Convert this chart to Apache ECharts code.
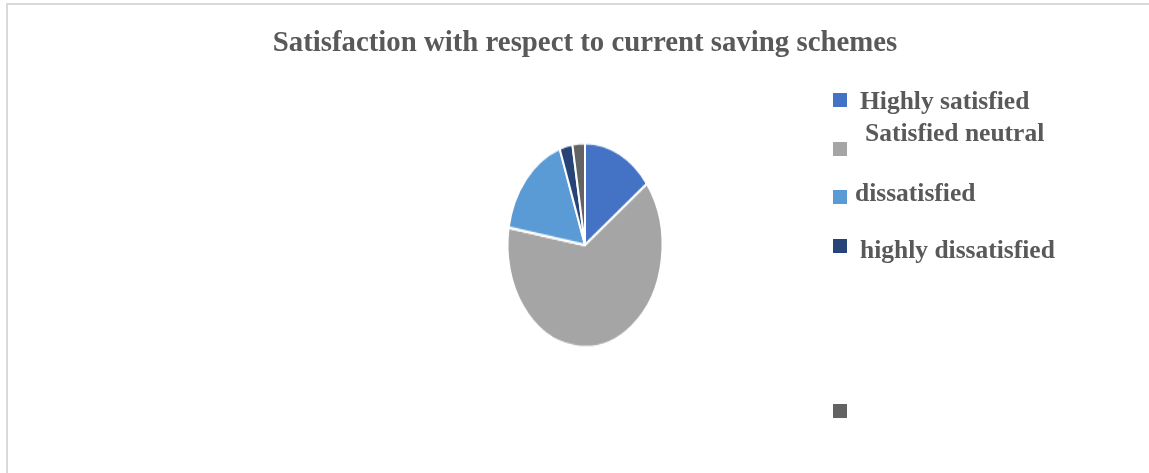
<!DOCTYPE html>
<html>
<head>
<meta charset="utf-8">
<script src="https://cdn.jsdelivr.net/npm/echarts@6/dist/echarts.min.js"></script>
<style>
html,body{margin:0;padding:0;background:#fff;}
#main{position:absolute;left:0;top:0;width:1149px;height:473px;}
#pie{position:absolute;left:485px;top:145px;width:200px;height:200px;transform:scaleY(1.316);transform-origin:50% 50%;}
</style>
</head>
<body>
<div id="main"></div>
<div id="pie"></div>
<script>
const titleText = 'Satisfaction with respect to current saving schemes';
const categories = ['Highly satisfied', 'Satisfied neutral', 'dissatisfied', 'highly dissatisfied', ' '];
const values = [14.7, 62.8, 16.9, 2.7, 2.6];
const colors = ['#4472C4', '#A5A5A5', '#5B9BD5', '#264478', '#636363'];

const pieData = categories.map((c, i) => ({ name: c, value: values[i], itemStyle: { color: colors[i] } }));

const fontFamily = '"Liberation Serif", serif';
const textBase = { color: '#595959', fontFamily: fontFamily, fontWeight: 'bold' };

// icon tops and label boxes [left, top]
const iconTops = [93, 142, 190, 239, 404];
const labelPos = [[855, 89], [860, 121], [850, 181], [855, 238], null];

const legends = [];
categories.forEach((c, i) => {
  legends.push({
    data: [c], left: 833, top: iconTops[i], orient: 'vertical', icon: 'rect',
    itemWidth: 14, itemHeight: 14, padding: 0, selectedMode: false,
    formatter: () => '',
    textStyle: { fontSize: 8, lineHeight: 8 }
  });
  if (labelPos[i]) {
    legends.push({
      data: [c], left: labelPos[i][0], top: labelPos[i][1], orient: 'vertical', icon: 'rect',
      itemWidth: 0, itemHeight: 0, padding: 0, selectedMode: false,
      textStyle: Object.assign({}, textBase, { fontSize: 25.5, lineHeight: 26 })
    });
  }
});

const main = echarts.init(document.getElementById('main'), null, { renderer: 'canvas' });
main.setOption({
  backgroundColor: '#ffffff',
  animation: false,
  title: {
    text: titleText,
    left: 580, top: 24, textAlign: 'center',
    textStyle: Object.assign({}, textBase, { fontSize: 28.8 })
  },
  graphic: [{
    type: 'rect', shape: { x: 7, y: 4, width: 1160, height: 500 },
    style: { fill: 'none', stroke: '#D9D9D9', lineWidth: 2 }, silent: true
  }],
  legend: legends,
  series: [{
    type: 'pie', radius: [0, 0], center: [585, 245], silent: true,
    label: { show: false }, labelLine: { show: false }, data: pieData
  }]
});

const pie = echarts.init(document.getElementById('pie'), null, { renderer: 'canvas' });
pie.setOption({
  animation: false,
  series: [{
    type: 'pie', radius: [0, 77.5], center: ['50%', '50%'], startAngle: 90, clockwise: true,
    label: { show: false }, labelLine: { show: false },
    itemStyle: { borderColor: '#ffffff', borderWidth: 2 },
    emphasis: { disabled: true },
    data: pieData
  }]
});
</script>
</body>
</html>
